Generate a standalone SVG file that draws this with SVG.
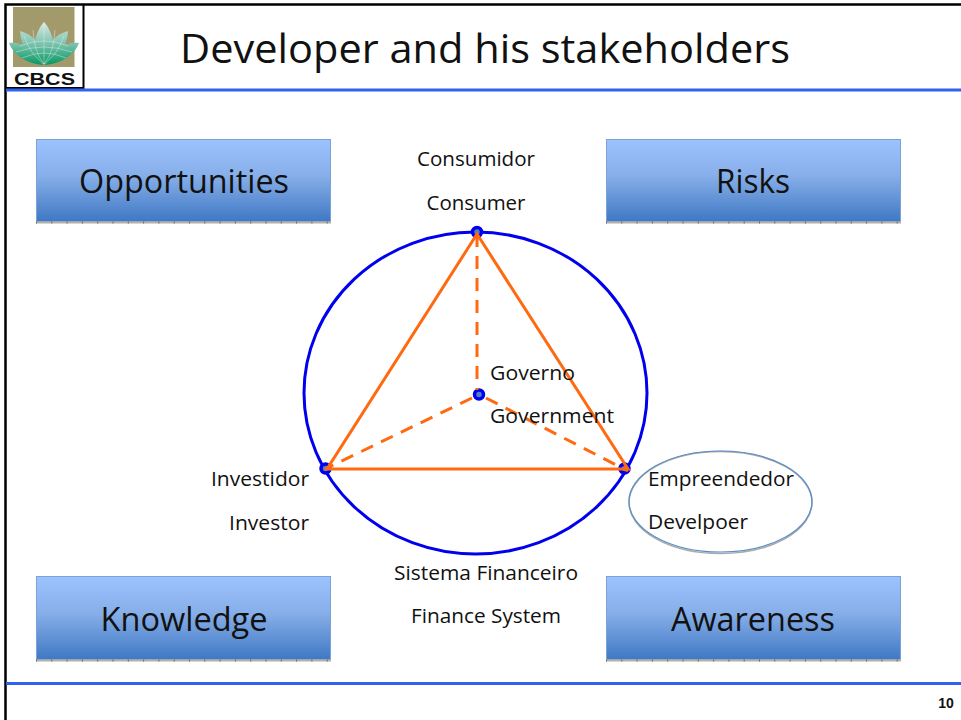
<svg xmlns="http://www.w3.org/2000/svg" width="961" height="720" viewBox="0 0 961 720">
<style>
.t{font-family:"Open Sans","Noto Sans",sans-serif;fill:#111}
.s{font-size:20px}
.b{font-size:32px;text-anchor:middle}
.box{fill:url(#g);stroke:#7ba3d6;stroke-width:1}
.under{stroke:#b5b0a8;stroke-width:2;fill:none}
.tick{stroke:#666;stroke-width:2;stroke-dasharray:1 14.300;fill:none}
.dash{stroke:#ff6a10;stroke-width:3;stroke-dasharray:13 9;fill:none}
.dot{fill:#4f81bd;stroke:#0000ee;stroke-width:3.500}
.petal{fill:url(#l)}
.lat{fill:none;stroke:#e6f3ee;stroke-width:.6;opacity:.7}
</style>
<defs>
<linearGradient id="g" x1="0" y1="0" x2="0" y2="1">
<stop offset="0" stop-color="#9dc3ff"/><stop offset=".45" stop-color="#86aee8"/><stop offset="1" stop-color="#3f78c4"/>
</linearGradient>
<linearGradient id="l" gradientUnits="userSpaceOnUse" x1="0" y1="22" x2="0" y2="64">
<stop offset="0" stop-color="#dbe9e6"/><stop offset=".5" stop-color="#7fc5b0"/><stop offset="1" stop-color="#0c9a68"/>
</linearGradient>
</defs>
<rect width="961" height="720" fill="#fff"/>
<g id="frame">
<path d="M5.500 720V4.500H961" fill="none" stroke="#000" stroke-width="2.500"/>
<path d="M83.500 4V88H6" fill="none" stroke="#000" stroke-width="2"/>
<path d="M6 90H961M6 683.500H961" stroke="#2f62ee" stroke-width="3"/>
</g>
<g id="logo">
<rect x="13" y="7" width="61.500" height="60" fill="#a39a6c"/>
<path class="petal" d="M44 65C26 64 13 54 9 43C16 42 24 44 30 49C32 56 38 62 44 65C50 62 56 56 58 49C64 44 72 42 79 43C75 54 62 64 44 65Z"/>
<path class="petal" d="M44 64C30 60 21 48 20 31C27 33 32 36 35 40C37 33 40 26 44 22C48 26 51 33 53 40C56 36 61 33 68 31C67 48 58 60 44 64Z"/>
<path class="lat" d="M44 22V64M20 46Q44 36 68 46M16 52Q44 42 72 52M22 58Q44 48 66 58M33 30Q34 52 44 64M55 30Q54 52 44 64M24 36Q30 54 44 64M64 36Q58 54 44 64"/>
<text x="44.500" y="85" text-anchor="middle" font-family="Liberation Sans,sans-serif" font-weight="700" font-size="17" textLength="61" lengthAdjust="spacingAndGlyphs" fill="#111">CBCS</text>
</g>
<text id="title" class="t" x="485" y="63" text-anchor="middle" font-size="41" textLength="610" lengthAdjust="spacingAndGlyphs">Developer and his stakeholders</text>
<g id="opportunities"><rect class="box" x="36.500" y="139.500" width="294" height="82"/><path class="under" d="M36 222.500H331"/><path class="tick" d="M36 222.500H331"/><text class="t b" x="184" y="193" textLength="210" lengthAdjust="spacingAndGlyphs">Opportunities</text></g>
<g id="risks"><rect class="box" x="606.500" y="139.500" width="294" height="82"/><path class="under" d="M606 222.500H901"/><path class="tick" d="M606 222.500H901"/><text class="t b" x="753" y="193" textLength="74" lengthAdjust="spacingAndGlyphs">Risks</text></g>
<g id="knowledge"><rect class="box" x="36.500" y="576.500" width="294" height="83"/><path class="under" d="M36 660.500H331"/><path class="tick" d="M36 660.500H331"/><text class="t b" x="184" y="631" textLength="167" lengthAdjust="spacingAndGlyphs">Knowledge</text></g>
<g id="awareness"><rect class="box" x="606.500" y="576.500" width="294" height="83"/><path class="under" d="M606 660.500H901"/><path class="tick" d="M606 660.500H901"/><text class="t b" x="753" y="631" textLength="164" lengthAdjust="spacingAndGlyphs">Awareness</text></g>
<g id="circle"><ellipse cx="475.500" cy="393" rx="171.500" ry="161" fill="none" stroke="#0000ee" stroke-width="3"/></g>
<g id="consumer-dot"><circle class="dot" cx="477" cy="232" r="4.500"/></g>
<g id="government-dot"><circle class="dot" cx="479" cy="394.500" r="4.500"/></g>
<g id="investor-dot"><circle class="dot" cx="325.500" cy="468.500" r="4.500"/></g>
<g id="developer-dot"><circle class="dot" cx="624.500" cy="468.500" r="4.500"/></g>
<g id="connectors">
<path d="M477 234L327 469H628Z" fill="none" stroke="#ff6a10" stroke-width="3"/>
<path class="dash" d="M477 234V390"/>
<path class="dash" d="M472 398L325 469"/>
<path class="dash" d="M486 398L628 471"/>
</g>
<g id="consumer"><text class="t s" x="476" y="166" text-anchor="middle" textLength="118" lengthAdjust="spacingAndGlyphs">Consumidor</text><text class="t s" x="476" y="210" text-anchor="middle" textLength="99" lengthAdjust="spacingAndGlyphs">Consumer</text></g>
<g id="government"><text class="t s" x="490" y="380" textLength="85" lengthAdjust="spacingAndGlyphs">Governo</text><text class="t s" x="490" y="423" textLength="124" lengthAdjust="spacingAndGlyphs">Government</text></g>
<g id="investor"><text class="t s" x="211" y="486" textLength="98" lengthAdjust="spacingAndGlyphs">Investidor</text><text class="t s" x="229" y="530" textLength="80" lengthAdjust="spacingAndGlyphs">Investor</text></g>
<g id="developer">
<ellipse cx="720.500" cy="502.500" rx="91.500" ry="51" fill="none" stroke="#aaa" stroke-width="1.500"/><ellipse cx="720.500" cy="501.500" rx="91.500" ry="50.500" fill="none" stroke="#5b8ec9" stroke-width="1.200"/>
<text class="t s" x="648" y="486" textLength="146" lengthAdjust="spacingAndGlyphs">Empreendedor</text><text class="t s" x="648" y="529" textLength="100" lengthAdjust="spacingAndGlyphs">Develpoer</text></g>
<g id="finance"><text class="t s" x="486" y="580" text-anchor="middle" textLength="184" lengthAdjust="spacingAndGlyphs">Sistema Financeiro</text><text class="t s" x="486" y="623" text-anchor="middle" textLength="150" lengthAdjust="spacingAndGlyphs">Finance System</text></g>
<text id="page" x="946" y="708" text-anchor="middle" font-family="Liberation Sans,sans-serif" font-weight="700" font-size="14" fill="#111">10</text>
</svg>
